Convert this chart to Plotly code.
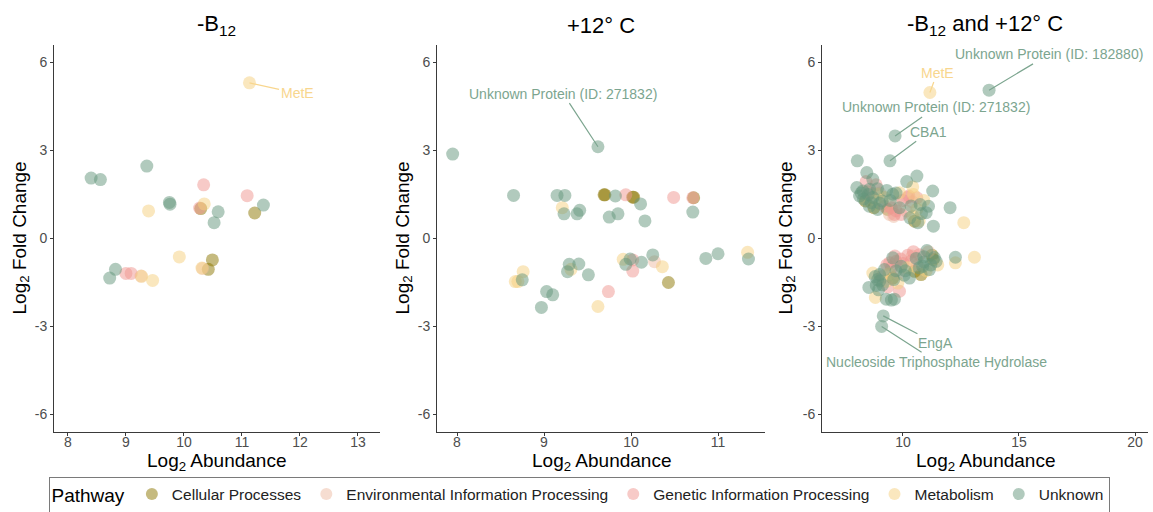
import plotly.graph_objects as go

PATHWAYS = ["Cellular Processes", "Environmental Information Processing",
            "Genetic Information Processing", "Metabolism", "Unknown"]
CODES = {"C": PATHWAYS[0], "E": PATHWAYS[1], "G": PATHWAYS[2], "M": PATHWAYS[3], "U": PATHWAYS[4]}
COLORS = {"Cellular Processes": "#8B7500",
          "Environmental Information Processing": "#EDBBA4",
          "Genetic Information Processing": "#EF9590",
          "Metabolism": "#F6D07E",
          "Unknown": "#64957B"}

PANEL_TITLES = ["-B<sub>12</sub>", "+12° C", "-B<sub>12</sub> and +12° C"]
Y_TICKS = [-6, -3, 0, 3, 6]
Y_TICK_TEXT = ["-6", "-3", "0", "3", "6"]
X_TICKS = [[8, 9, 10, 11, 12, 13], [8, 9, 10, 11], [10, 15, 20]]

# Panel 1: -B12
p1_x = [11.13, 9.36, 8.40, 8.56, 10.34, 11.09, 11.37, 9.75, 9.76, 10.35, 10.27, 10.29,
        9.39, 10.59, 11.22, 10.52, 9.92, 10.49, 10.31, 10.32, 10.42, 8.82, 8.72, 9.00,
        9.09, 9.26, 9.27, 9.46]
p1_y = [5.31, 2.47, 2.06, 2.01, 1.83, 1.46, 1.14, 1.23, 1.17, 1.18, 1.04, 1.02,
        0.94, 0.91, 0.87, 0.54, -0.63, -0.73, -1.01, -1.02, -1.05, -1.05, -1.35, -1.19,
        -1.19, -1.28, -1.29, -1.43]
p1_p = ["M", "U", "U", "U", "G", "G", "U", "U", "U", "M", "G", "C",
        "M", "U", "C", "U", "M", "C", "M", "E", "C", "U", "U", "G",
        "G", "E", "M", "M"]

# Panel 2: +12 C
p2_x = [9.62, 7.95, 8.65, 9.15, 9.24, 9.69, 9.70, 9.82, 9.94, 10.02, 10.03, 10.49,
        10.71, 10.72, 10.11, 9.21, 9.23, 9.38, 9.41, 9.75, 9.85, 10.16, 10.71, 10.25,
        10.86, 11.00, 11.34, 11.35, 9.91, 9.94, 9.99, 10.02, 10.02, 10.12, 10.27, 10.36,
        10.43, 9.29, 9.27, 9.31, 9.40, 9.51, 8.76, 8.67, 8.70, 8.75, 9.03, 9.10,
        8.97, 9.74, 9.62]
p2_y = [3.13, 2.88, 1.47, 1.47, 1.47, 1.49, 1.49, 1.45, 1.49, 1.41, 1.41, 1.40,
        1.39, 1.39, 1.18, 1.05, 0.84, 0.84, 0.96, 0.73, 0.84, 0.60, 0.90, -0.56,
        -0.68, -0.52, -0.47, -0.70, -0.71, -0.88, -0.70, -0.73, -1.11, -0.81, -0.79, -0.96,
        -1.50, -0.88, -1.13, -1.05, -0.87, -1.24, -1.13, -1.47, -1.47, -1.41, -1.81, -1.92,
        -2.35, -1.81, -2.32]
p2_p = ["U", "U", "U", "U", "U", "C", "C", "U", "G", "C", "C", "G",
        "G", "C", "U", "M", "U", "U", "U", "U", "U", "U", "U", "U",
        "U", "U", "M", "U", "M", "U", "U", "G", "G", "U", "E", "M",
        "C", "U", "U", "M", "U", "U", "M", "M", "M", "U", "U", "U",
        "U", "G", "M"]

# Panel 3: -B12 and +12 C
p3_x = [13.71, 11.16, 9.66, 9.44, 9.15, 9.08,
        8.03, 8.44, 8.70, 8.41, 8.84, 8.01, 8.27, 8.56, 10.16, 10.60, 11.28, 10.42, 9.85,
        9.30, 9.56, 8.91, 10.25, 10.60, 8.13, 8.38, 8.30, 8.63, 9.10, 9.34, 8.91, 9.71,
        9.85, 9.63, 9.92, 10.35, 10.74, 11.00, 12.03, 10.50, 10.64, 11.31, 12.62, 10.42,
        10.14, 9.42, 8.50, 8.70, 8.60, 8.80, 9.00, 9.20, 9.50, 9.70, 10.00, 10.20,
        10.40, 10.60, 10.80, 8.20, 8.45, 8.90, 9.20, 9.45, 9.70, 10.45, 10.90, 8.55,
        9.60, 10.30, 10.70, 11.10, 8.75, 9.00,
        12.26, 12.26, 13.08, 11.03, 11.43, 11.30, 10.71, 10.21, 10.35, 10.85, 10.50, 10.78,
        10.28, 11.14, 9.92, 9.71, 9.56, 9.42, 9.20, 8.99, 8.70, 8.91, 9.28, 9.56,
        9.78, 9.12, 8.53, 8.85, 9.85, 8.81, 9.28, 9.63, 9.50, 10.10, 10.57, 10.90,
        11.10, 11.25, 11.50, 9.30, 9.50, 9.70, 9.90, 10.00, 10.40, 10.60, 10.90, 11.20,
        9.10, 9.40, 9.60, 9.00, 8.80, 10.20, 10.70, 11.00, 9.80, 10.05, 9.35, 8.95,
        11.35, 10.45, 9.65]
p3_y = [5.06, 4.98, 3.50, 2.65, -2.64, -3.00,
        2.65, 2.25, 2.02, 1.94, 1.83, 1.74, 1.62, 1.68, 1.94, 2.13, 1.62, 1.76, 1.56,
        1.64, 1.51, 1.51, 1.45, 1.39, 1.45, 1.28, 1.35, 1.22, 1.28, 0.99, 0.99, 1.22,
        1.05, 0.82, 0.82, 1.11, 1.16, 0.88, 1.05, 0.59, 0.54, 0.42, 0.54, 0.76,
        0.94, 0.82, 1.50, 1.40, 1.55, 1.30, 1.20, 1.10, 1.05, 0.95, 1.30, 1.40,
        1.25, 1.00, 0.85, 1.55, 1.60, 1.70, 1.40, 1.30, 1.55, 1.50, 1.30, 1.10,
        0.75, 0.70, 0.60, 1.10, 1.05, 1.55,
        -0.64, -0.83, -0.64, -0.41, -0.78, -0.72, -0.55, -0.57, -0.77, -0.95, -1.12, -1.23,
        -1.35, -1.06, -0.95, -0.78, -0.66, -0.83, -1.06, -1.23, -1.18, -1.40, -1.46, -1.35,
        -1.52, -1.58, -1.67, -1.60, -1.80, -2.01, -2.07, -2.07, -2.10, -1.10, -0.68, -0.62,
        -0.45, -0.57, -0.90, -0.90, -1.00, -1.10, -0.70, -0.85, -0.60, -0.90, -0.80, -0.90,
        -1.30, -1.20, -1.40, -1.45, -1.30, -1.00, -1.00, -1.10, -1.20, -1.25, -1.65, -1.75,
        -0.65, -0.45, -0.60]
p3_p = ["U", "M", "U", "U", "U", "U",
        "U", "U", "U", "G", "G", "U", "U", "U", "U", "U", "U", "M", "M",
        "U", "U", "M", "G", "G", "U", "C", "U", "U", "U", "C", "U", "E",
        "U", "G", "G", "U", "U", "U", "U", "C", "U", "U", "M", "M",
        "E", "E", "U", "U", "G", "M", "U", "G", "G", "G", "G", "G",
        "E", "M", "U", "U", "E", "U", "M", "U", "U", "M", "M", "U",
        "E", "U", "M", "U", "C", "E",
        "U", "M", "M", "U", "U", "C", "G", "G", "G", "U", "C", "C",
        "U", "U", "U", "G", "U", "G", "U", "U", "M", "U", "M", "C",
        "M", "U", "U", "U", "G", "M", "U", "U", "U", "U", "U", "U",
        "E", "C", "M", "G", "G", "U", "G", "G", "E", "E", "U", "U",
        "G", "M", "U", "U", "U", "M", "U", "M", "E", "U", "G", "U",
        "U", "G", "G"]

# Labels: (panel, text, point x, point y, label x, label y, pathway)
labels = [
    (1, "MetE", 11.13, 5.31, 11.95, 4.95, "M"),
    (2, "Unknown Protein (ID: 271832)", 9.62, 3.13, 9.22, 4.94, "U"),
    (3, "Unknown Protein (ID: 182880)", 13.71, 5.06, 16.29, 6.28, "U"),
    (3, "MetE", 11.16, 4.98, 11.48, 5.66, "M"),
    (3, "Unknown Protein (ID: 271832)", 9.66, 3.50, 11.41, 4.47, "U"),
    (3, "CBA1", 9.44, 2.65, 11.12, 3.64, "U"),
    (3, "EngA", 9.15, -2.64, 11.41, -3.57, "U"),
    (3, "Nucleoside Triphosphate Hydrolase", 9.08, -3.00, 11.44, -4.20, "U"),
]
LABEL_COLORS = {"U": "#7CA58F", "M": "#F8D68E"}

FONT = "Liberation Sans, Arial, sans-serif"
W, H = 1153, 512
x_dom = [(54 / W, 380 / W), (437 / W, 765 / W), (822 / W, 1148 / W)]
y_dom = ((512 - 432) / H, (512 - 45) / H)
x_ranges = [[7.76, 13.38], [7.77, 11.54], [6.51, 20.56]]

fig = go.Figure()
panels = [(p1_x, p1_y, p1_p), (p2_x, p2_y, p2_p), (p3_x, p3_y, p3_p)]
for i, (xs, ys, ps) in enumerate(panels):
    for name in PATHWAYS:
        sx = [x for x, p in zip(xs, ps) if CODES[p] == name]
        sy = [y for y, p in zip(ys, ps) if CODES[p] == name]
        fig.add_trace(go.Scatter(
            x=sx, y=sy, mode="markers", name=name, legendgroup=name,
            showlegend=(i == 0),
            marker=dict(size=13, color=COLORS[name], opacity=0.5, line=dict(width=0)),
            xaxis="x" if i == 0 else f"x{i+1}", yaxis="y" if i == 0 else f"y{i+1}",
            hoverinfo="skip"))

axis_common = dict(showline=True, linecolor="#3a3a3a", linewidth=1, ticks="outside",
                   ticklen=3, tickcolor="#3a3a3a", showgrid=False, zeroline=False,
                   tickfont=dict(family=FONT, size=14, color="#4D4D4D"))
layout = dict(width=W, height=H, margin=dict(l=0, r=0, t=0, b=0, autoexpand=False),
              plot_bgcolor="white", paper_bgcolor="white", font=dict(family=FONT))
for i in range(3):
    sfx = "" if i == 0 else str(i + 1)
    layout[f"xaxis{sfx}"] = dict(domain=list(x_dom[i]), range=x_ranges[i], tickvals=X_TICKS[i],
                                  anchor=f"y{sfx}", ticklabelstandoff=-6, **axis_common)
    layout[f"yaxis{sfx}"] = dict(domain=list(y_dom), range=[-6.6, 6.6], tickvals=Y_TICKS,
                                  ticktext=Y_TICK_TEXT, anchor=f"x{sfx}", **axis_common)
fig.update_layout(**layout)

ann = []
for i in range(3):
    cx = (x_dom[i][0] + x_dom[i][1]) / 2
    ann.append(dict(text=PANEL_TITLES[i], x=cx, y=1 - 25 / H, xref="paper", yref="paper",
                    showarrow=False, font=dict(size=22, color="black", family=FONT),
                    xanchor="center", yanchor="middle"))
    ann.append(dict(text="Log<sub>2</sub> Abundance", x=cx, y=1 - 462 / H, xref="paper",
                    yref="paper", showarrow=False, font=dict(size=19, color="black", family=FONT),
                    xanchor="center", yanchor="middle"))
    ylab_x = [20, 403, 786][i]
    ann.append(dict(text="Log<sub>2</sub> Fold Change", x=ylab_x / W, y=1 - 238.5 / H,
                    xref="paper", yref="paper", showarrow=False, textangle=-90,
                    font=dict(size=19, color="black", family=FONT),
                    xanchor="center", yanchor="middle"))
for panel, txt, px, py, lx, ly, pc in labels:
    sfx = "" if panel == 1 else str(panel)
    col = LABEL_COLORS[pc]
    ann.append(dict(text=txt, x=px, y=py, ax=lx, ay=ly, xref=f"x{sfx}", yref=f"y{sfx}",
                    axref=f"x{sfx}", ayref=f"y{sfx}", showarrow=True, arrowhead=0,
                    arrowwidth=1.2, arrowcolor=col, standoff=0,
                    font=dict(size=14, color=col, family=FONT)))
fig.update_layout(annotations=ann)

fig.update_layout(legend=dict(
    orientation="h", x=579 / W, xanchor="center", y=(512 - 495) / H, yanchor="middle",
    bordercolor="#7a7a7a", borderwidth=1, bgcolor="white",
    font=dict(size=15.5, color="#222222", family=FONT),
    title=dict(text="Pathway", font=dict(size=19, color="black", family=FONT), side="left"),
    itemsizing="constant", tracegroupgap=0, itemwidth=30))

fig.write_html("out.html", config={"displayModeBar": False},
               post_script="document.body.style.margin='0px';")
